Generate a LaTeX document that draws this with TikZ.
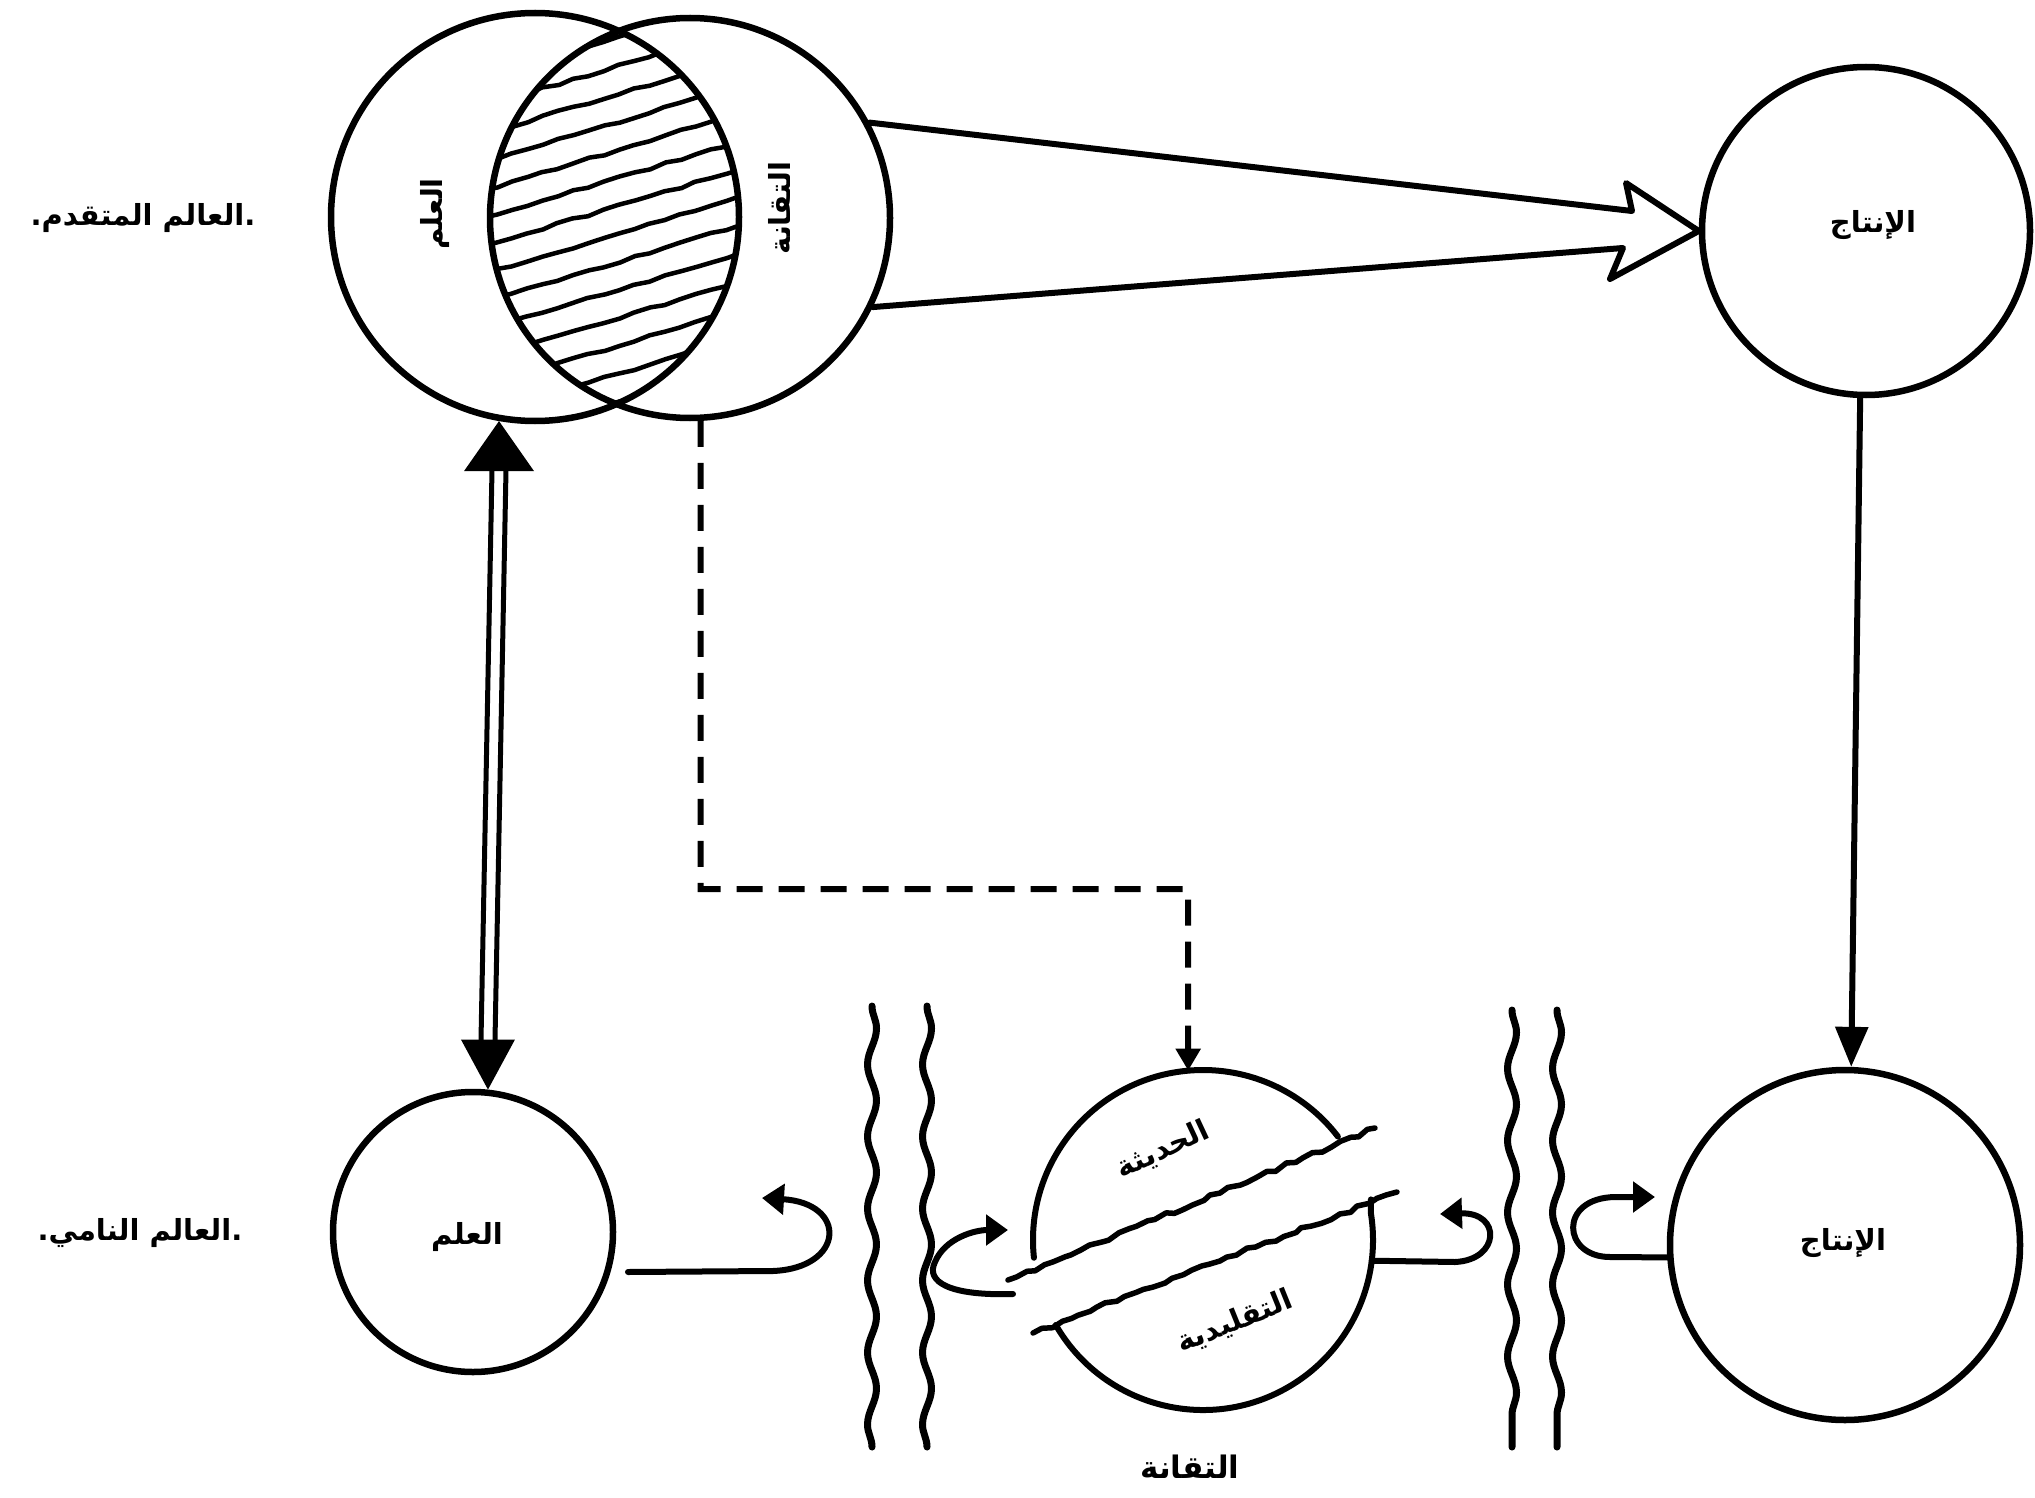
\documentclass[tikz,border=0pt]{standalone}
\usepackage{fontspec}
\newfontfamily\arabicfont[Script=Arabic]{DejaVu Sans}
\TeXXeTstate=1
\usetikzlibrary{arrows.meta,decorations.pathmorphing,calc}
\begin{document}
\begin{tikzpicture}[x=1pt,y=-1pt,
  circ/.style={circle,draw,line width=6.5pt,inner sep=0pt},
  ghost/.style={circle,inner sep=0pt,outer sep=0pt},
  lab/.style={font=\arabicfont\bfseries\fontsize{29}{32}\selectfont,inner sep=1pt},
  ln/.style={line width=6pt,line cap=round,line join=round},
  wav/.style={line width=7pt,line cap=round,line join=round,decorate,decoration={snake,segment length=72pt,amplitude=4.5pt}},
  rough/.style={line width=5.5pt,line cap=round,line join=round,decorate,decoration={random steps,segment length=10pt,amplitude=2.2pt}},
  hatch/.style={line width=4.5pt,decorate,decoration={random steps,segment length=16pt,amplitude=1.3pt}},
  tipsm/.style={-{Triangle[length=22pt,width=30pt]}},
  dsh/.style={line width=6pt,dash pattern=on 26pt off 16pt}
]
\pgfmathsetseed{7}
\fill[white] (0,0) rectangle (2035,1498);
\useasboundingbox (0,0) rectangle (2035,1498);

% hatch in the lens
\begin{scope}
  \clip (535,217) circle[radius=204pt];
  \clip (690,218) circle[radius=200pt];
  \foreach \c in {38,66,...,430} \draw[hatch] (420,{\c+0.3*198}) -- (820,{\c-0.3*202});
\end{scope}

% circles
\node[circ,minimum size=408pt] (L) at (535,217) {};
\node[circ,minimum size=400pt] (R) at (690,218) {};
\node[circ,minimum size=328pt] (PT) at (1866,231) {};
\node[circ,minimum size=350pt] (LR) at (1845,1245) {};
\node[circ,minimum size=280pt] (LL) at (473,1232) {};
\node[ghost,minimum size=340pt] (M) at (1203,1240) {};

% split middle circle
\draw[ln] (M.186) arc[start angle=186,end angle=37.5,radius=170pt];
\draw[ln] (M.210) arc[start angle=210,end angle=369,radius=170pt] -- ++(0,-14);
\draw[rough] (1008,1280) -- (1375,1128);
\draw[rough] (1033,1333) -- (1397,1192);

% labels
\node[lab] (t1) at (143,218) {\beginR .العالم المتقدم.\endR};
\node[lab] (t2) at (140,1233) {\beginR .العالم النامي.\endR};
\node[lab,rotate=90] (lv1) at (435,214) {\beginR العلم\endR};
\node[lab,rotate=90] (lv2) at (779,208) {\beginR التقانة\endR};
\node[lab] (lpt) at (1873,225) {\beginR الإنتاج\endR};
\node[lab] (llr) at (1843,1243) {\beginR الإنتاج\endR};
\node[lab] (lll) at (467,1237) {\beginR العلم\endR};
\node[lab,rotate=25] (lm1) at (1163,1150) {\beginR الحديثة\endR};
\node[lab,rotate=22] (lm2) at (1235,1322) {\beginR التقليدية\endR};
\node[lab,font=\arabicfont\bfseries\fontsize{31}{33}\selectfont] (lbot) at (1190,1467) {\beginR التقانة\endR};

% big hollow arrow
\draw[ln] (R.28) -- (1632,211) -- (1626,183) -- (PT.west) -- (1610,279) -- (1623,248) -- (R.-26);

% double arrow
\coordinate (a1) at (L.260);
\coordinate (a2) at (LL.84);
\fill ($(a1)$) -- ($(a1)+(-35,50)$) -- ($(a1)+(35,50)$) -- cycle;
\fill (a2) -- ($(a2)+(-27,-50)$) -- ($(a2)+(27,-50)$) -- cycle;
\draw[line width=5pt] ($(a1)+(-7,48)$) -- ($(a2)+(-7,-48)$);
\draw[line width=5pt] ($(a1)+(7,48)$) -- ($(a2)+(7,-48)$);

% dashed connector
\coordinate (d2) at (1188,889);
\draw[dsh,-{Triangle[length=22pt,width=24pt]}] (R.273) |- (d2) -- (M.95);

% vertical right arrow
\draw[ln,-{Triangle[length=40pt,width=32pt]}] (PT.-92) -- (LR.88);

% wavy walls
\draw[wav] (872,1006) -- (872,1447);
\draw[wav] (927,1006) -- (927,1447);
\draw[wav] (1512,1010) -- (1512,1447);
\draw[wav] (1557,1010) -- (1557,1447);

% loops
\coordinate (l1s) at (628,1272);
\draw[ln,tipsm] (l1s) -- (773,1271) .. controls (845,1268) and (848,1203) .. (762,1198);
\coordinate (l2s) at (1013,1294);
\draw[ln,tipsm] (l2s) .. controls (950,1296) and (925,1282) .. (935,1262) .. controls (945,1238) and (975,1230) .. (1008,1230);
\draw[ln,tipsm] (M.-7) -- (1455,1262) .. controls (1500,1260) and (1502,1212) .. (1440,1214);
\draw[ln,tipsm] (LR.184) -- (1610,1257) .. controls (1562,1257) and (1558,1198) .. (1615,1197) -- (1655,1197);
\end{tikzpicture}
\end{document}
